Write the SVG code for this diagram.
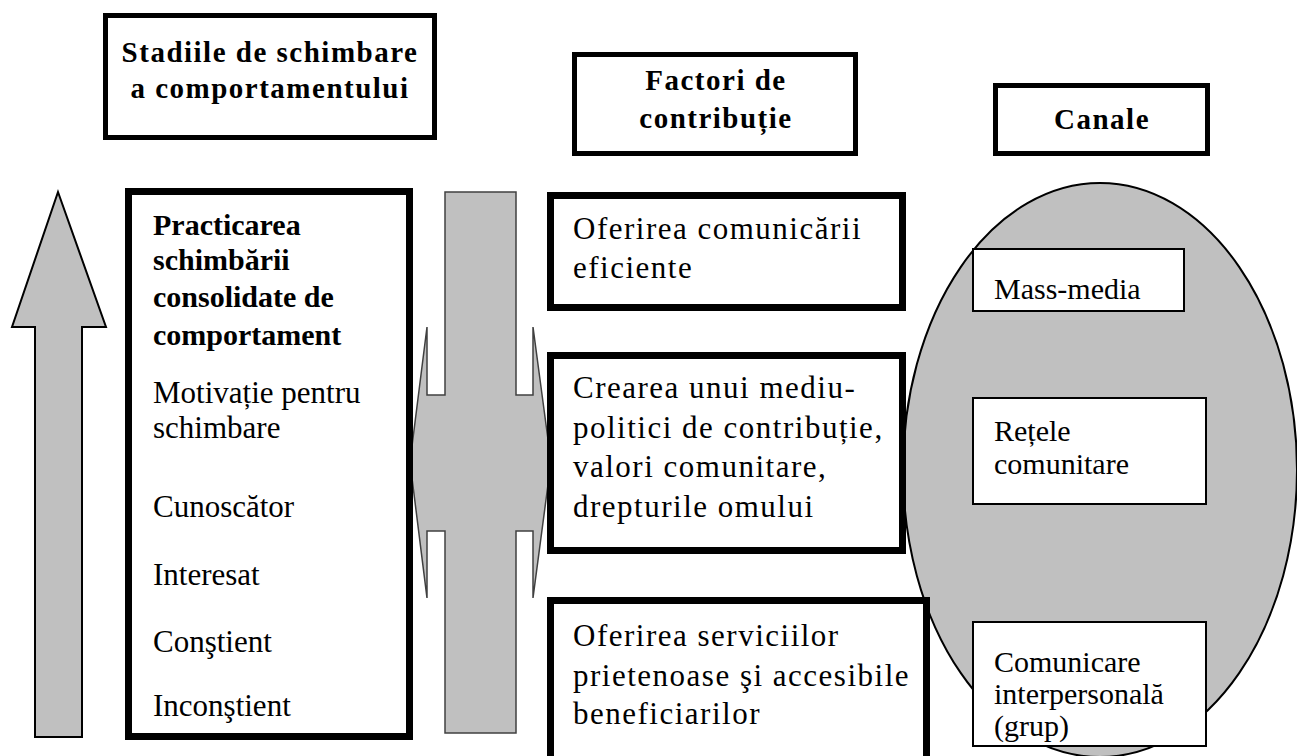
<svg xmlns="http://www.w3.org/2000/svg" width="1297" height="756" viewBox="0 0 1297 756">
<style>
.hdr{fill:#fff;stroke:#000;stroke-width:5}
.box{fill:#fff;stroke:#000;stroke-width:7}
.ch{fill:#fff;stroke:#000;stroke-width:2}
text{font-family:'Liberation Serif','Times New Roman',serif;fill:#000}
.ht{font-weight:bold;font-size:29px;letter-spacing:1.5px;text-anchor:middle}
.bt{font-weight:bold;font-size:30px}
.t{font-size:30px}
.lt{font-size:31px}
.ft{font-size:31px;letter-spacing:1.5px}
.arrow{fill:#c0c0c0}
</style>
<rect width="1297" height="756" fill="#fff"/>
<g id="connectors">
<polygon class="arrow" stroke="#000" stroke-width="2" points="58,192 106,327 82,327 82,737 35,737 35,327 12,327"/>
<polygon class="arrow" stroke="#404040" stroke-width="1.5" points="445,192 516,192 516,395 533,395 533,327 551,462 533,598 533,531 516,531 516,733 445,733 445,531 427,531 427,598 410,462 427,327 427,395 445,395"/>
</g>
<g id="header-stadii">
<rect class="hdr" x="105.5" y="15.5" width="329" height="122"/>
<text class="ht" x="270" y="62">Stadiile de schimbare</text>
<text class="ht" x="270" y="98">a comportamentului</text>
</g>
<g id="header-factori">
<rect class="hdr" x="574.5" y="54.5" width="281" height="99"/>
<text class="ht" x="716" y="90">Factori de</text>
<text class="ht" x="716" y="128">contribuție</text>
</g>
<g id="header-canale">
<rect class="hdr" x="995.5" y="85.5" width="212" height="68"/>
<text class="ht" x="1102" y="129">Canale</text>
</g>
<g id="stadii">
<rect class="box" x="128.5" y="191.5" width="281" height="545"/>
<text class="bt" x="153" y="235">Practicarea</text>
<text class="bt" x="153" y="270">schimbării</text>
<text class="bt" x="153" y="307">consolidate de</text>
<text class="bt" x="153" y="345">comportament</text>
<text class="lt" x="153" y="403">Motivație pentru</text>
<text class="lt" x="153" y="438">schimbare</text>
<text class="lt" x="153" y="517">Cunoscător</text>
<text class="lt" x="153" y="585">Interesat</text>
<text class="lt" x="153" y="652">Conştient</text>
<text class="lt" x="153" y="716">Inconştient</text>
</g>
<g id="canale">
<ellipse cx="1100" cy="470" rx="197" ry="287" fill="#c0c0c0" stroke="#000" stroke-width="2"/>
</g>
<g id="factor-1">
<rect class="box" x="550.5" y="195.5" width="352" height="112"/>
<text class="ft" x="573" y="239">Oferirea comunicării</text>
<text class="ft" x="573" y="278">eficiente</text>
</g>
<g id="factor-2">
<rect class="box" x="550.5" y="355.5" width="352" height="195"/>
<text class="ft" x="573" y="398">Crearea unui mediu-</text>
<text class="ft" x="573" y="438">politici de contribuție,</text>
<text class="ft" x="573" y="477">valori comunitare,</text>
<text class="ft" x="573" y="517">drepturile omului</text>
</g>
<g id="factor-3">
<rect class="box" x="550.5" y="600.5" width="376" height="170"/>
<text class="ft" x="573" y="646">Oferirea serviciilor</text>
<text class="ft" x="573" y="686">prietenoase şi accesibile</text>
<text class="ft" x="573" y="724">beneficiarilor</text>
</g>
<g id="canal-mass-media">
<rect class="ch" x="973" y="249" width="211" height="62"/>
<text class="t" x="994" y="299">Mass-media</text>
</g>
<g id="canal-retele">
<rect class="ch" x="973" y="398" width="233" height="106"/>
<text class="t" x="994" y="441">Rețele</text>
<text class="t" x="994" y="474">comunitare</text>
</g>
<g id="canal-comunicare">
<rect class="ch" x="973" y="622" width="233" height="124"/>
<text class="t" x="994" y="672">Comunicare</text>
<text class="t" x="994" y="704">interpersonală</text>
<text class="t" x="994" y="736">(grup)</text>
</g>
</svg>
